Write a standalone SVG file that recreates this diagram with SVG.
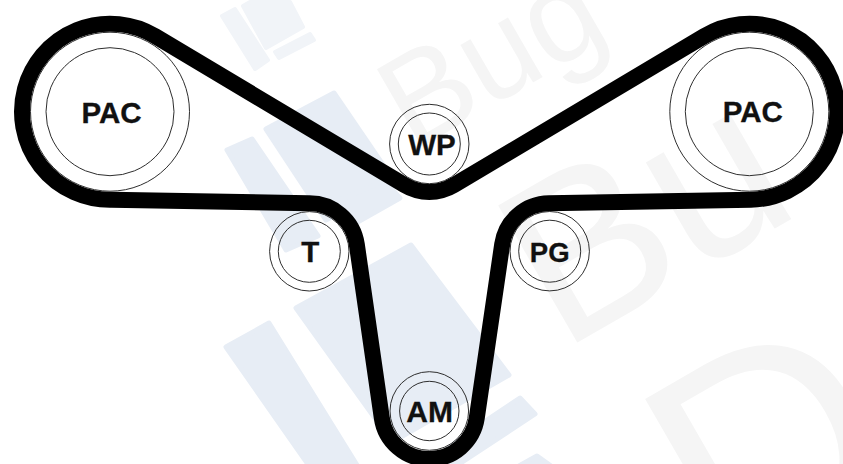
<svg xmlns="http://www.w3.org/2000/svg" width="843" height="464" viewBox="0 0 843 464">
<style>
.mark{fill:#e7edf5;stroke:#e7edf5;stroke-width:5;stroke-linejoin:round}
.marks{fill:#f1f4f8;stroke:#f1f4f8;stroke-width:4;stroke-linejoin:round}
.wm{font-family:"Liberation Sans",Arial,sans-serif;fill:#f5f5f5}
.ring{fill:none;stroke:#2e2e2e;stroke-width:1}
.lbl{font-family:"Liberation Sans",Arial,sans-serif;font-weight:700;font-size:29.5px;fill:#111;stroke:#111;stroke-width:.3;text-anchor:middle}
.belt{fill:none;stroke:#000;stroke-width:16;stroke-linejoin:round}
</style>
<rect width="843" height="464" fill="#fff"/>
<g id="watermark">
<polygon class="marks" points="222,16 235,9 268,60 255,69"/>
<polygon class="marks" points="243,6 250,2 290,2 303,27 266,48"/>
<polygon class="marks" points="275,52 310,34 314,40 279,58"/>
<polygon class="mark" points="227,150 252,139 318,236 286,250"/>
<polygon class="mark" points="266,129 334,93 396,184 326,220"/>
<polygon class="mark" points="342,199 384,181 400,198 354,224"/>
<polygon class="mark" points="226,347 269,323 360,470 312,470"/>
<polygon class="mark" points="296,308 411,245 509,375 392,442"/>
<polygon class="mark" points="472,430 520,398 535,414 450,470 420,470"/>
<polygon class="mark" points="519,466 537,456 551,466"/>
<text class="wm" font-size="130" transform="translate(412.5 152) rotate(-30)">Bug</text>
<text class="wm" font-size="230" transform="translate(561 352) rotate(-30)">Bu</text>
<text class="wm" font-size="300" transform="translate(727 590) rotate(-30)">D</text>
</g>
<g id="connectors">
<path class="belt" d="M111.58 199.69A88 88 0 1 1 155.13 36.15L404.69 185.21A48 48 0 0 0 453.87 185.23L704.25 36.11A88 88 0 1 1 750.84 199.69L548.86 203.21A48 48 0 0 0 502.21 244.24L476.79 417.96A48 48 0 0 1 381.79 417.85L356.81 244.45A48 48 0 0 0 308.44 203.31Z"/>
</g>
<g id="pac-left"><circle class="ring" cx="110" cy="111.7" r="64"/><circle class="ring" cx="110" cy="111.7" r="79.5"/><text class="lbl" x="111.6" y="122.5">PAC</text></g>
<g id="pac-right"><circle class="ring" cx="749.3" cy="111.7" r="64"/><circle class="ring" cx="749.3" cy="111.7" r="79.5"/><text class="lbl" x="752.8" y="122">PAC</text></g>
<g id="wp"><circle class="ring" cx="429.3" cy="144" r="31"/><circle class="ring" cx="429.3" cy="144" r="39.7"/><text class="lbl" x="432" y="155">WP</text></g>
<g id="t"><circle class="ring" cx="309.3" cy="251.3" r="31"/><circle class="ring" cx="309.3" cy="251.3" r="39.7"/><text class="lbl" x="310.3" y="262">T</text></g>
<g id="pg"><circle class="ring" cx="549.7" cy="251.2" r="31"/><circle class="ring" cx="549.7" cy="251.2" r="39.7"/><text class="lbl" x="549.7" y="262" style="font-size:27.5px">PG</text></g>
<g id="am"><circle class="ring" cx="429.3" cy="411" r="29.7"/><circle class="ring" cx="429.3" cy="411" r="39.3"/><text class="lbl" x="429.7" y="422" style="font-size:30px">AM</text></g>
</svg>
